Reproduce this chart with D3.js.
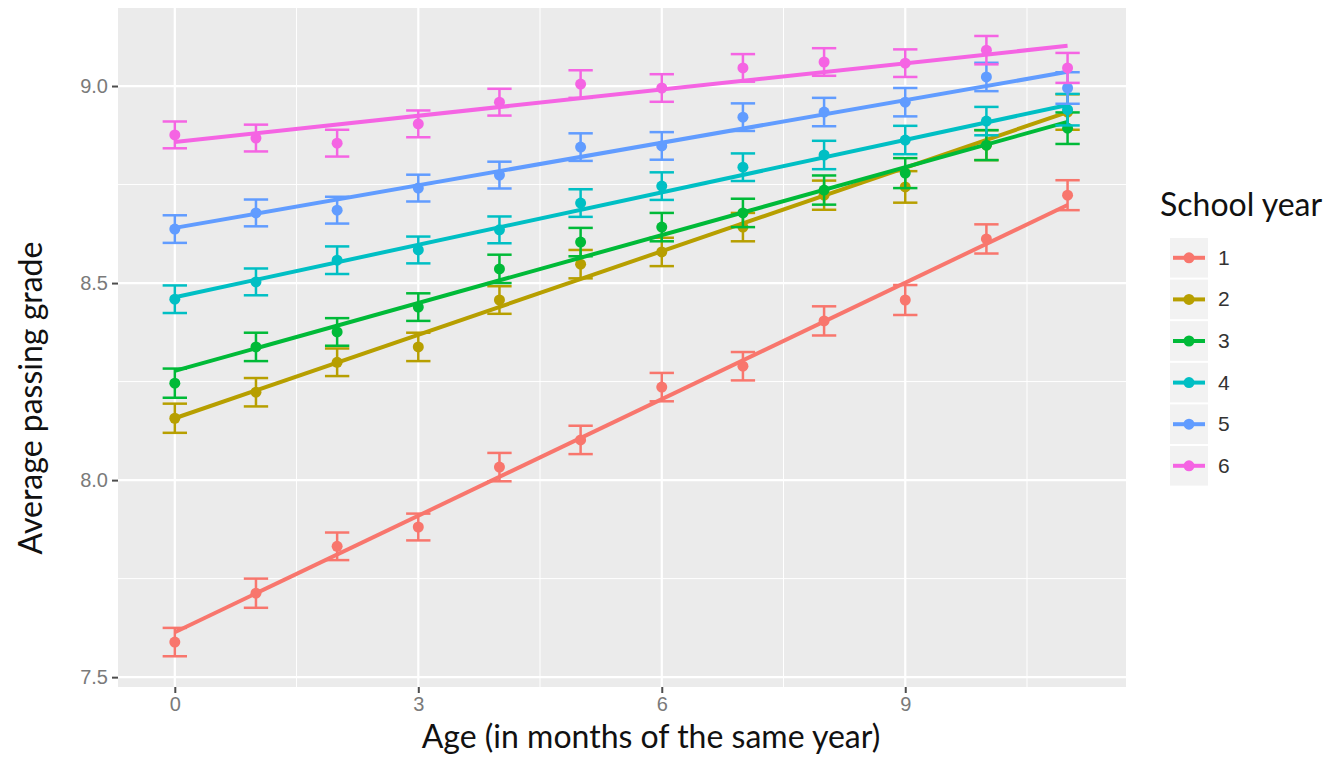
<!DOCTYPE html>
<html>
<head>
<meta charset="utf-8">
<script src="https://cdn.jsdelivr.net/npm/d3@7"></script>
<style>
  html, body { margin: 0; padding: 0; background: #fff; }
  svg { display: block; }
</style>
</head>
<body>
<div class="graphic"></div>
<script>
// months of age within the school year
const months = [0, 1, 2, 3, 4, 5, 6, 7, 8, 9, 10, 11];
const schoolYears = ['1', '2', '3', '4', '5', '6'];
const yearColors = ['#F8766D', '#B79F00', '#00BA38', '#00BFC4', '#619CFF', '#F564E3'];

// mean passing grade per month, one array per school year
const grade1 = [7.589, 7.713, 7.832, 7.881, 8.033, 8.102, 8.236, 8.289, 8.404, 8.457, 8.612, 8.723];
const grade2 = [8.157, 8.223, 8.299, 8.338, 8.457, 8.548, 8.579, 8.642, 8.723, 8.744, 8.850, 8.934];
const grade3 = [8.246, 8.338, 8.376, 8.439, 8.536, 8.604, 8.642, 8.678, 8.736, 8.779, 8.850, 8.893];
const grade4 = [8.459, 8.503, 8.558, 8.584, 8.635, 8.703, 8.746, 8.794, 8.825, 8.863, 8.911, 8.940];
const grade5 = [8.637, 8.678, 8.685, 8.741, 8.774, 8.845, 8.848, 8.921, 8.934, 8.959, 9.023, 8.995];
const grade6 = [8.876, 8.868, 8.855, 8.904, 8.959, 9.005, 8.995, 9.046, 9.061, 9.058, 9.091, 9.046];

// half height of the error bars
const err1 = [0.036, 0.037, 0.035, 0.034, 0.036, 0.036, 0.036, 0.036, 0.037, 0.038, 0.037, 0.038];
const err2 = [0.037, 0.036, 0.035, 0.036, 0.035, 0.036, 0.036, 0.036, 0.037, 0.040, 0.038, 0.045];
const err3 = [0.037, 0.036, 0.035, 0.035, 0.036, 0.036, 0.036, 0.036, 0.037, 0.038, 0.038, 0.040];
const err4 = [0.035, 0.034, 0.035, 0.034, 0.034, 0.035, 0.035, 0.035, 0.036, 0.036, 0.036, 0.040];
const err5 = [0.035, 0.034, 0.034, 0.034, 0.034, 0.035, 0.035, 0.035, 0.036, 0.036, 0.036, 0.040];
const err6 = [0.034, 0.034, 0.034, 0.034, 0.034, 0.035, 0.035, 0.035, 0.035, 0.035, 0.036, 0.038];

// fitted line values at month 0 and month 11
const fitStart = [7.614, 8.157, 8.277, 8.464, 8.640, 8.858];
const fitEnd = [8.698, 8.934, 8.909, 8.952, 9.036, 9.102];

const xTicks = [0, 3, 6, 9];
const xMinor = [1.5, 4.5, 7.5, 10.5];
const yTicks = [7.5, 8.0, 8.5, 9.0];
const yMinor = [7.75, 8.25, 8.75];

const grades = [grade1, grade2, grade3, grade4, grade5, grade6];
const errs = [err1, err2, err3, err4, err5, err6];

const series = schoolYears.map((name, i) => ({
  name: name,
  color: yearColors[i],
  points: months.map((m, j) => ({ x: m, y: grades[i][j], e: errs[i][j] })),
  fit: [{ x: months[0], y: fitStart[i] }, { x: months[months.length - 1], y: fitEnd[i] }]
}));

const width = 1341, height = 760;
const panel = { left: 118, right: 1126, top: 8, bottom: 687 };
const titleFont = 'Lato, "Open Sans", sans-serif';
const tickFont = '"Liberation Sans", Arial, sans-serif';

const svg = d3.select('.graphic')
  .append('svg')
  .attr('width', width)
  .attr('height', height);

const x = d3.scaleLinear().domain([-0.70, 11.72]).range([panel.left, panel.right]);
const y = d3.scaleLinear().domain([7.475, 9.198]).range([panel.bottom, panel.top]);

// panel background
svg.append('rect')
  .attr('x', panel.left)
  .attr('y', panel.top)
  .attr('width', panel.right - panel.left)
  .attr('height', panel.bottom - panel.top)
  .attr('fill', '#ebebeb');

// grid lines
const grid = svg.append('g');
grid.selectAll('.xminor').data(xMinor).enter().append('line')
  .attr('x1', d => x(d)).attr('x2', d => x(d))
  .attr('y1', panel.top).attr('y2', panel.bottom)
  .attr('stroke', '#fff').attr('stroke-width', 1);
grid.selectAll('.yminor').data(yMinor).enter().append('line')
  .attr('y1', d => y(d)).attr('y2', d => y(d))
  .attr('x1', panel.left).attr('x2', panel.right)
  .attr('stroke', '#fff').attr('stroke-width', 1);
grid.selectAll('.xmajor').data(xTicks).enter().append('line')
  .attr('x1', d => x(d)).attr('x2', d => x(d))
  .attr('y1', panel.top).attr('y2', panel.bottom)
  .attr('stroke', '#fff').attr('stroke-width', 2.2);
grid.selectAll('.ymajor').data(yTicks).enter().append('line')
  .attr('y1', d => y(d)).attr('y2', d => y(d))
  .attr('x1', panel.left).attr('x2', panel.right)
  .attr('stroke', '#fff').attr('stroke-width', 2.2);

// axes
const xAxis = svg.append('g')
  .attr('transform', 'translate(0,' + panel.bottom + ')')
  .call(d3.axisBottom(x).tickValues(xTicks).tickSize(6).tickPadding(4).tickFormat(d3.format('d')));
const yAxis = svg.append('g')
  .attr('transform', 'translate(' + panel.left + ',0)')
  .call(d3.axisLeft(y).tickValues(yTicks).tickSize(6).tickPadding(4).tickFormat(d3.format('.1f')));

[xAxis, yAxis].forEach(ax => {
  ax.select('.domain').remove();
  ax.selectAll('.tick line').attr('stroke', '#4d4d4d').attr('stroke-width', 2);
  ax.selectAll('.tick text')
    .attr('fill', '#7a7a7a')
    .style('font-family', tickFont)
    .style('font-size', '20px');
});

// series: fitted lines, error bars, points
const capHalf = 0.15;
const line = d3.line().x(d => x(d.x)).y(d => y(d.y));

series.forEach(s => {
  const g = svg.append('g');

  g.selectAll('.bar').data(s.points).enter().append('line')
    .attr('x1', d => x(d.x)).attr('x2', d => x(d.x))
    .attr('y1', d => y(d.y - d.e)).attr('y2', d => y(d.y + d.e))
    .attr('stroke', s.color).attr('stroke-width', 2.5);
  g.selectAll('.captop').data(s.points).enter().append('line')
    .attr('x1', d => x(d.x - capHalf)).attr('x2', d => x(d.x + capHalf))
    .attr('y1', d => y(d.y + d.e)).attr('y2', d => y(d.y + d.e))
    .attr('stroke', s.color).attr('stroke-width', 2.5);
  g.selectAll('.capbot').data(s.points).enter().append('line')
    .attr('x1', d => x(d.x - capHalf)).attr('x2', d => x(d.x + capHalf))
    .attr('y1', d => y(d.y - d.e)).attr('y2', d => y(d.y - d.e))
    .attr('stroke', s.color).attr('stroke-width', 2.5);

  g.selectAll('circle').data(s.points).enter().append('circle')
    .attr('cx', d => x(d.x)).attr('cy', d => y(d.y))
    .attr('r', 5.5)
    .attr('fill', s.color);

  g.append('path')
    .datum(s.fit)
    .attr('d', line)
    .attr('fill', 'none')
    .attr('stroke', s.color)
    .attr('stroke-width', 4);
});

// axis titles
svg.append('text')
  .attr('x', 651)
  .attr('y', 748)
  .attr('text-anchor', 'middle')
  .style('font-family', titleFont)
  .style('font-size', '32px')
  .attr('fill', '#111')
  .text('Age (in months of the same year)');

svg.append('text')
  .attr('transform', 'translate(42,398) rotate(-90)')
  .attr('text-anchor', 'middle')
  .style('font-family', titleFont)
  .style('font-size', '32px')
  .attr('fill', '#111')
  .text('Average passing grade');

// legend
const legend = svg.append('g').attr('transform', 'translate(1160,0)');
legend.append('text')
  .attr('x', 0)
  .attr('y', 216)
  .style('font-family', titleFont)
  .style('font-size', '32px')
  .attr('fill', '#111')
  .text('School year');

const keyH = 41.6, keyTop = 238;
const keys = legend.selectAll('.key').data(series).enter().append('g')
  .attr('transform', (d, i) => 'translate(10,' + (keyTop + i * keyH) + ')');
keys.append('rect')
  .attr('width', 38).attr('height', keyH - 2)
  .attr('fill', '#f2f2f2');
keys.append('line')
  .attr('x1', 3).attr('x2', 35)
  .attr('y1', keyH / 2 - 1).attr('y2', keyH / 2 - 1)
  .attr('stroke', d => d.color).attr('stroke-width', 4);
keys.append('circle')
  .attr('cx', 19).attr('cy', keyH / 2 - 1).attr('r', 5.5)
  .attr('fill', d => d.color);
keys.append('text')
  .attr('x', 48)
  .attr('y', keyH / 2 + 6)
  .style('font-family', tickFont)
  .style('font-size', '21px')
  .attr('fill', '#333')
  .text(d => d.name);
</script>
</body>
</html>
